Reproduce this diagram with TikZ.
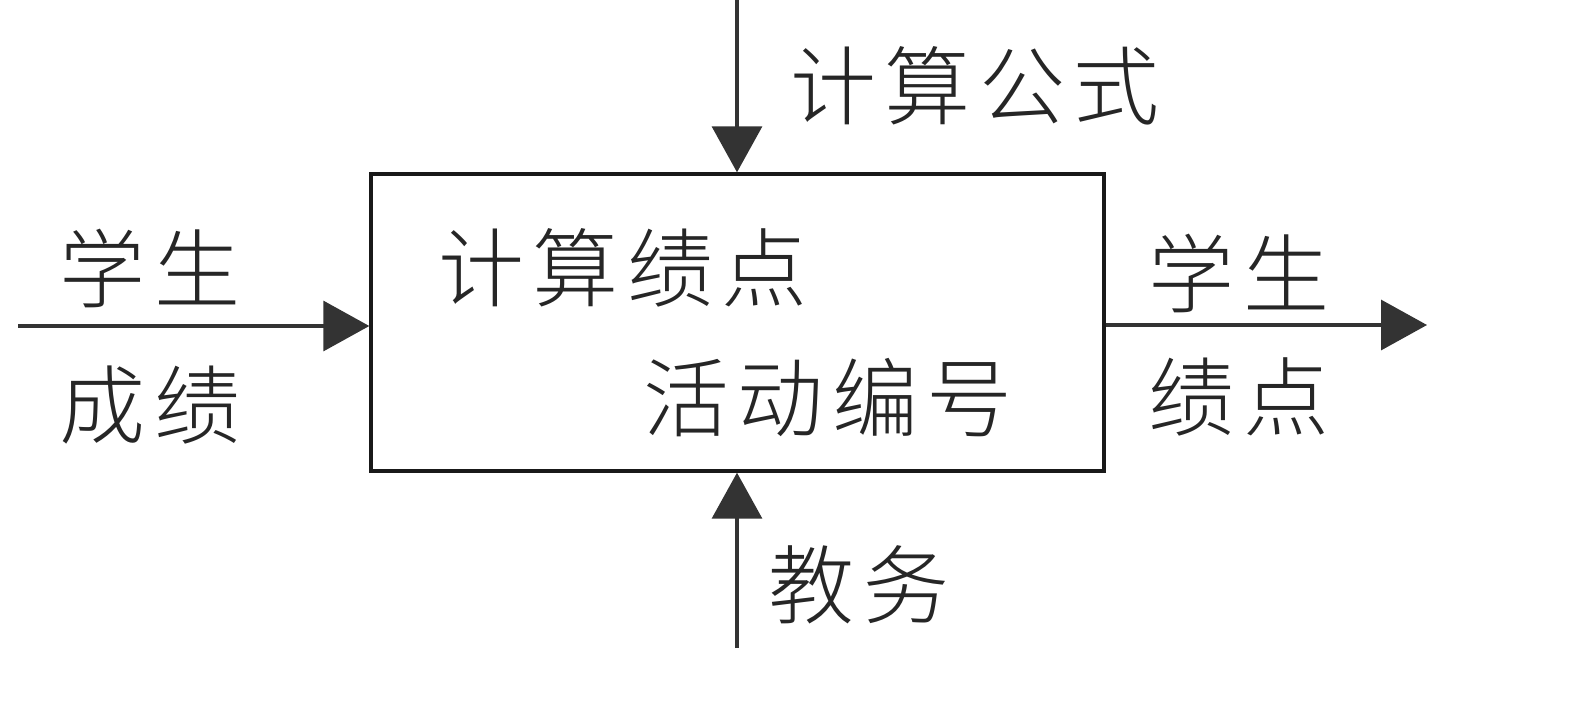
\documentclass[tikz,border=0pt]{standalone}
\usepackage{fontspec}
\newfontfamily\cjk[LetterSpace=10]{Noto Sans CJK SC Light}
\usetikzlibrary{arrows.meta}
\begin{document}
\begin{tikzpicture}[x=1pt,y=-1pt,
  line/.style={draw=black!80, line width=3.4pt},
  flow/.style={line, -{Triangle[length=46pt,width=50pt]}},
  lbl/.style={inner sep=0pt, text=black!85, font=\cjk\fontsize{86pt}{90pt}\selectfont}]
\useasboundingbox (0,0) rectangle (1574,724);
% the activity box
\node[line, draw=black!90, minimum width=733pt, minimum height=297pt, inner sep=0pt] (proc) at (737.5,322.5) {};
\node[lbl] (name1) at (623,268) {计算绩点};
\node[lbl] (name2) at (828,398) {活动编号};
% free ends of the arrows
\coordinate (ctlTop) at (737,0);
\coordinate (mechBot) at (737,648);
\coordinate (inL) at (18,326);
\coordinate (outR) at (1427,325);
% control, mechanism, input, output
\draw[flow] (ctlTop) -- (ctlTop |- proc.north);
\draw[flow] (mechBot) -- (mechBot |- proc.south);
\draw[flow] (inL) -- (inL -| proc.west);
\draw[flow] (outR -| proc.east) -- (outR);
% labels
\node[lbl] (ctl) at (975,86) {计算公式};
\node[lbl] (mech) at (859,585) {教务};
\node[lbl] (in1) at (150,268) {学生};
\node[lbl] (in2) at (150,405) {成绩};
\node[lbl] (out1) at (1239,273) {学生};
\node[lbl] (out2) at (1239,397) {绩点};
\end{tikzpicture}
\end{document}
